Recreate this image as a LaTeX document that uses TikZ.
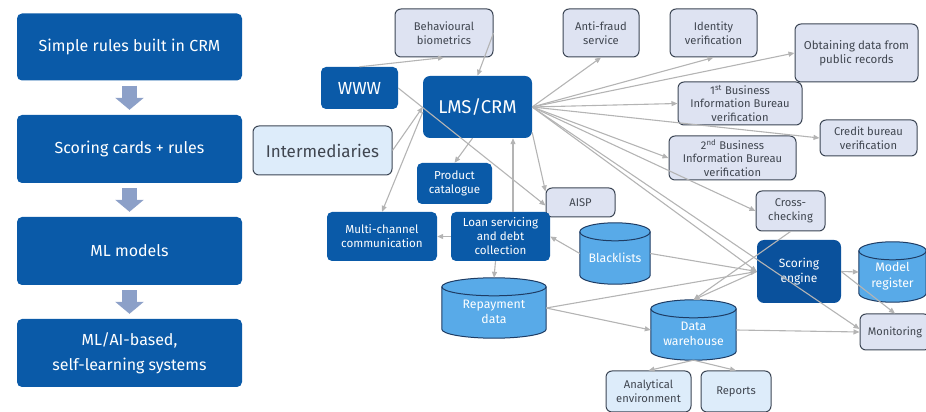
\documentclass[tikz,border=0pt]{standalone}
\usepackage{fontspec}
\setmainfont{Fira Sans}
\usetikzlibrary{arrows.meta,calc,backgrounds}
\definecolor{dkblue}{HTML}{0A5AA8}
\definecolor{scblue}{HTML}{0A519C}
\definecolor{lavfill}{HTML}{DEE3F2}
\definecolor{ltfill}{HTML}{DDECFA}
\definecolor{bord}{HTML}{3C4655}
\definecolor{txtgray}{HTML}{404650}
\definecolor{cylfill}{HTML}{58AAE8}
\definecolor{cylbord}{HTML}{1E3C64}
\definecolor{congray}{HTML}{B4B4B4}
\definecolor{arrblue}{HTML}{8CA0C8}
\newcommand\drawcyl[1]{%
  \path[fill=cylfill,draw=cylbord,line width=1pt] let \p1=(#1.south west), \p2=(#1.north east), \n1={(\x2-\x1)/2} in
    (\x1,\y2-9pt) -- (\x1,\y1+9pt) arc[start angle=180,end angle=360,x radius=\n1,y radius=9pt]
    -- (\x2,\y2-9pt) arc[start angle=0,end angle=180,x radius=\n1,y radius=9pt] -- cycle;
  \path[draw=cylbord,line width=1pt] let \p1=(#1.south west), \p2=(#1.north east), \n1={(\x2-\x1)/2} in
    (\x1,\y2-9pt) arc[start angle=180,end angle=360,x radius=\n1,y radius=9pt];
}
\tikzset{
  dk/.style={rectangle, rounded corners=5pt, fill=dkblue, text=white, align=center, inner sep=1pt},
  lav/.style={rectangle, rounded corners=6pt, fill=lavfill, draw=bord, line width=1pt, text=txtgray, align=center, inner sep=1pt, font=\fontsize{11.2}{13.7}\selectfont},
  lt/.style={lav, fill=ltfill},
  cyl/.style={rectangle, inner sep=1pt, text=white, align=center, font=\fontsize{12.3}{15.5}\selectfont, yshift=-4pt},
  big/.style={dk, minimum width=225pt, font=\fontsize{16}{25}\selectfont},
  small/.style={font=\fontsize{11.6}{14}\selectfont},
  con/.style={draw=congray, line width=1.1pt, -{Triangle[length=6pt,width=5pt]}},
  bigarr/.style={draw=arrblue, line width=15pt, shorten <=5pt, shorten >=5pt, -{Triangle[length=12pt,width=28pt]}}
}
\begin{document}
\begin{tikzpicture}[x=1pt,y=1pt]
\useasboundingbox (0,0) rectangle (926,412);
% left column
\node[big, minimum height=67pt] (L1) at (129.5,365) {Simple rules built in CRM};
\node[big, minimum height=68pt] (L2) at (129.5,263) {Scoring cards + rules};
\node[big, minimum height=68pt] (L3) at (129.5,161) {ML models};
\node[big, minimum height=68pt] (L4) at (129.5,59) {ML/AI-based,\\self-learning systems};
\draw[bigarr] (L1.south) -- (L2.north);
\draw[bigarr] (L2.south) -- (L3.north);
\draw[bigarr] (L3.south) -- (L4.north);
% main nodes
\node[lav, minimum width=98pt, minimum height=48pt] (bio) at (444,379) {Behavioural\\biometrics};
\node[dk, minimum width=77pt, minimum height=42pt, font=\fontsize{17.5}{20}\selectfont] (www) at (359.5,324) {WWW};
\node[dk, minimum width=109pt, minimum height=62pt, rounded corners=7pt, font=\fontsize{18.5}{22}\selectfont] (lms) at (477.5,305) {LMS/CRM};
\node[lt, minimum width=139pt, minimum height=49pt, font=\fontsize{17}{20}\selectfont] (inter) at (322.5,261.5) {Intermediaries};
\node[dk, small, minimum width=75pt, minimum height=41pt] (prod) at (454.5,228.5) {Product\\catalogue};
\node[lav, minimum width=69pt, minimum height=29pt] (aisp) at (580.5,209.5) {AISP};
\node[lav, minimum width=76pt, minimum height=48pt] (anti) at (601,379) {Anti-fraud\\service};
\node[lav, minimum width=87pt, minimum height=48pt] (ident) at (713.5,379) {Identity\\verification};
\node[lav, minimum width=123pt, minimum height=58pt, font=\fontsize{11.5}{14.5}\selectfont] (pub) at (856.5,359) {Obtaining data from\\public records};
\node[lav, minimum width=124pt, minimum height=43pt] (bib1) at (740,308.5) {1\textsuperscript{st} Business\\Information Bureau\\verification};
\node[lav, minimum width=97pt, minimum height=36pt] (credit) at (868.5,274) {Credit bureau\\verification};
\node[lav, minimum width=127pt, minimum height=44pt] (bib2) at (732.5,254) {2\textsuperscript{nd} Business\\Information Bureau\\verification};
\node[dk, small, minimum width=110pt, minimum height=49pt] (multi) at (382,175.5) {Multi-channel\\communication};
\node[dk, small, minimum width=99pt, minimum height=49pt] (loan) at (500.5,175.5) {Loan servicing\\and debt\\collection};
\node[lav, minimum width=69pt, minimum height=40pt] (cross) at (790.5,201) {Cross-\\checking};
\node[dk, fill=scblue, rounded corners=7pt, font=\fontsize{12}{15.5}\selectfont, minimum width=84pt, minimum height=63pt] (score) at (799,140.5) {Scoring\\engine};
\node[lav, minimum width=70pt, minimum height=36pt, font=\fontsize{11}{14}\selectfont] (mon) at (895,80) {Monitoring};
\node[lt, minimum width=85pt, minimum height=41pt] (anal) at (648.5,20.5) {Analytical\\environment};
\node[lt, minimum width=70pt, minimum height=41pt] (reps) at (736,20.5) {Reports};
% cylinders
\node[rectangle, minimum width=104pt, minimum height=60pt] (repd) at (494,104) {};
\node[rectangle, minimum width=70pt, minimum height=61pt] (black) at (615,158.5) {};
\node[rectangle, minimum width=67pt, minimum height=60pt] (model) at (892.5,140) {};
\node[rectangle, minimum width=85pt, minimum height=60pt] (dw) at (693.5,82) {};
\begin{scope}[on background layer]
\drawcyl{repd}
\drawcyl{black}
\drawcyl{model}
\drawcyl{dw}
\end{scope}
\node[cyl] (repdT) at (repd) {Repayment\\data};
\node[cyl] (blackT) at (black) {Blacklists};
\node[cyl] (modelT) at (model) {Model\\register};
\node[cyl] (dwT) at (dw) {Data\\warehouse};
% connectors
\draw[con] (www.north) -- (bio.south);
\draw[con] (bio.east) -- (lms.north);
\draw[con] (www.east) -- ([yshift=-3pt]aisp.west);
\draw[con] (lms.-25) -- ([yshift=-4pt]aisp.north west);
\draw[con] (inter.east) -- (lms.west);
\draw[con] ([yshift=-5pt]lms.west) -- (multi.north);
\draw[con] ([xshift=-5pt]lms.south) -- (prod.north);
\coordinate (lt) at ([xshift=12.5pt]loan.north);
\draw[con] (lt) -- (lt |- lms.south);
\draw[con] (loan.west) -- (multi.east);
\draw[con] ([xshift=-5pt]loan.south) -- (repd.north);
\draw[con] (black.west) -- (loan.east);
\foreach \t in {anti.south, ident.south, pub.west, bib1.west, credit.west, bib2.west, cross.west, score.west}
  \draw[con] (lms.east) -- (\t);
\draw[con] (lms.east) -- ([yshift=3pt]mon.west);
\draw[con] (black.east) -- (score.west);
\draw[con] (repd.east) -- (score.west);
\draw[con] (repd.east) -- (dw.west);
\draw[con] (cross.south) -- (dw.north);
\draw[con] (score.west) -- (dw.north);
\draw[con] (dw.east) -- (mon.west);
\draw[con] (score.east) -- (model.west);
\draw[con] (score.east) -- (mon.north);
\draw[con] (dw.south) -- (anal.north);
\draw[con] (dw.south) -- (reps.north);
\end{tikzpicture}
\end{document}
